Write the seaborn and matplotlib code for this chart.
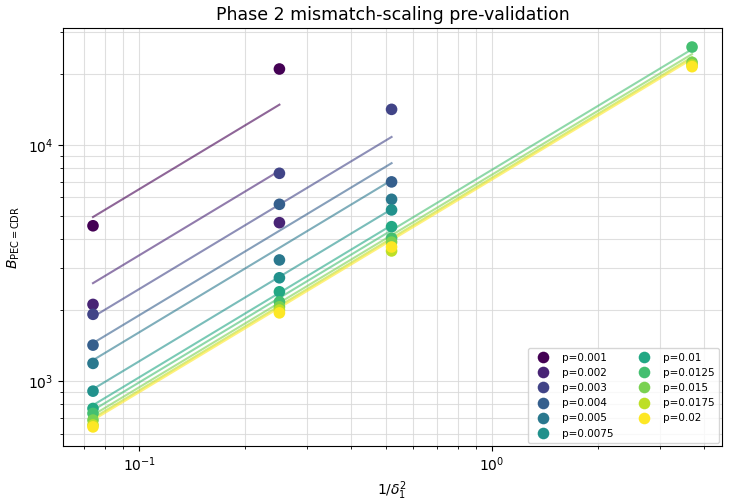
import numpy as np
import pandas as pd
import matplotlib
matplotlib.use("Agg")
import matplotlib.pyplot as plt
import seaborn as sns

# ---- data ----
p_labels = ["p=0.001", "p=0.002", "p=0.003", "p=0.004", "p=0.005", "p=0.0075",
            "p=0.01", "p=0.0125", "p=0.015", "p=0.0175", "p=0.02"]
inv_delta_sq = [0.074, 0.25, 0.52, 3.7]

# measured B per p at each 1/delta^2 (None = not measured)
B_p0010 = [4550, 20990, None, None]
B_p0020 = [2113, 4690, None, None]
B_p0030 = [1919, 7590, 14160, None]
B_p0040 = [1421, 5610, 6980, None]
B_p0050 = [1189, 3260, 5890, None]
B_p0075 = [907, 2740, 5310, None]
B_p0100 = [766, 2390, 4510, None]
B_p0125 = [730, 2167, 4030, 26000]
B_p0150 = [684, 2065, 3880, 22400]
B_p0175 = [652, 2000, 3560, 21800]
B_p0200 = [640, 1946, 3700, 21470]

measured = [B_p0010, B_p0020, B_p0030, B_p0040, B_p0050, B_p0075,
            B_p0100, B_p0125, B_p0150, B_p0175, B_p0200]

# fitted scaling model: B_fit = B_fit_ref * (x / x_ref) ** fit_slope
fit_slope = 0.9
fit_x_ref = 0.074
B_fit_ref = [4955, 2600, 1871, 1449, 1227, 925, 791, 753, 718, 697, 684]

rows = []
fit_rows = []
for lab, vals, bref in zip(p_labels, measured, B_fit_ref):
    xs = [x for x, v in zip(inv_delta_sq, vals) if v is not None]
    for x, v in zip(inv_delta_sq, vals):
        if v is not None:
            rows.append({"x": x, "B": v, "p": lab})
    for x in (min(xs), max(xs)):
        fit_rows.append({"x": x, "B": bref * (x / fit_x_ref) ** fit_slope, "p": lab})

df = pd.DataFrame(rows)
df_fit = pd.DataFrame(fit_rows)

palette = list(plt.cm.viridis(np.linspace(0, 1, len(p_labels))))

fig = plt.figure(figsize=(7.33, 5.01), dpi=100)
ax = fig.add_axes([0.086, 0.110, 0.899, 0.834])

sns.lineplot(data=df_fit, x="x", y="B", hue="p", hue_order=p_labels,
             palette=palette, alpha=0.6, linewidth=1.5, legend=False,
             ax=ax, estimator=None, sort=True)
sns.scatterplot(data=df, x="x", y="B", hue="p", hue_order=p_labels,
                palette=palette, s=70, edgecolor="none", ax=ax, zorder=3)

ax.set_xscale("log")
ax.set_yscale("log")
ax.grid(True, which="both", color="#d8d8d8", linewidth=0.8, alpha=0.8)
ax.set_axisbelow(True)
ax.set_xlabel(r"$1/\delta_1^2$")
ax.set_ylabel(r"$B_{\mathrm{PEC=CDR}}$")
ax.set_title("Phase 2 mismatch-scaling pre-validation", fontsize=12.5)
ax.legend(loc="lower right", ncol=2, fontsize=7.5, title=None,
          markerscale=1.0, framealpha=0.8, borderaxespad=0.3)

fig.savefig("out.png", dpi=100)
